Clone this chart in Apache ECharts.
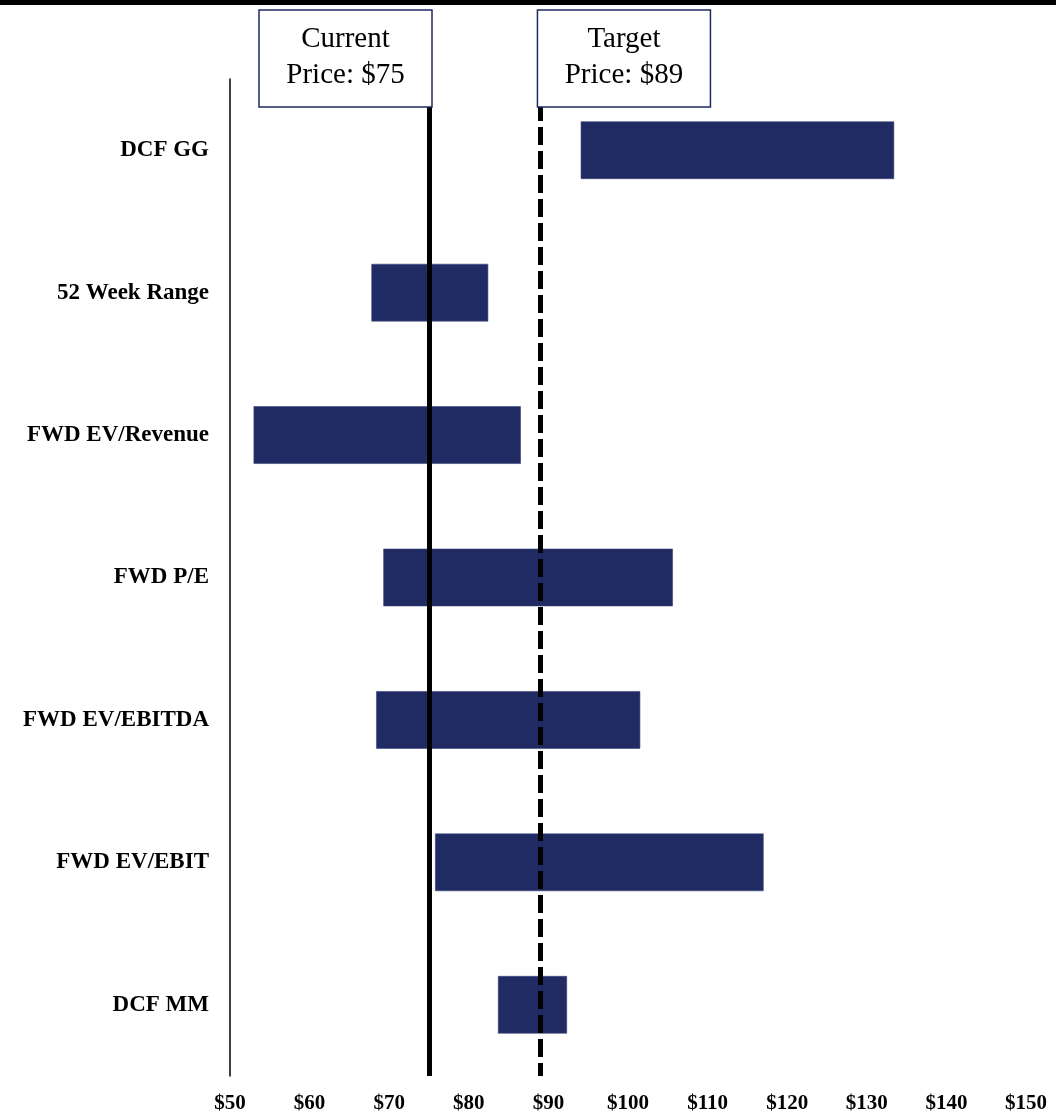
<!DOCTYPE html>
<html>
<head>
<meta charset="utf-8">
<script src="https://cdn.jsdelivr.net/npm/echarts/dist/echarts.min.js"></script>
<style>
  html, body { margin: 0; padding: 0; background: #ffffff; }
  #chart { width: 1056px; height: 1115px; }
</style>
</head>
<body>
<div id="chart"></div>
<script>
// Valuation methods, top to bottom
const categories = ['DCF GG', '52 Week Range', 'FWD EV/Revenue', 'FWD P/E', 'FWD EV/EBITDA', 'FWD EV/EBIT', 'DCF MM'];
// Low and high end of each implied share-price range ($)
const lowValues  = [94.1, 67.8, 53.0, 69.3, 68.4, 75.8, 83.7];
const highValues = [133.4, 82.4, 86.5, 105.6, 101.5, 117.0, 92.3];
// Reference prices ($)
const currentPrice = 75;
const targetPrice = 89;
// Price axis
const axisMin = 50;
const axisMax = 150;
const axisStep = 10;

const NAVY = '#202B63';
const SERIF = '"Liberation Serif", "Times New Roman", serif';

const chart = echarts.init(document.getElementById('chart'), null, { renderer: 'canvas' });

const option = {
  backgroundColor: '#ffffff',
  animation: false,
  grid: { left: 230, right: 30, top: 79, bottom: 39, containLabel: false },
  xAxis: {
    type: 'value',
    min: axisMin,
    max: axisMax,
    interval: axisStep,
    axisLine: { show: false },
    axisTick: { show: false },
    splitLine: { show: false },
    axisLabel: {
      margin: 17,
      color: '#000',
      fontFamily: SERIF,
      fontWeight: 'bold',
      fontSize: 21,
      formatter: v => '$' + v
    }
  },
  yAxis: {
    type: 'category',
    data: categories,
    inverse: true,
    axisLine: { show: true, lineStyle: { color: '#000', width: 1.5 } },
    axisTick: { show: false },
    splitLine: { show: false },
    axisLabel: {
      margin: 21,
      color: '#000',
      fontFamily: SERIF,
      fontWeight: 'bold',
      fontSize: 23
    }
  },
  series: [{
    type: 'custom',
    name: 'Range',
    encode: { x: [1, 2], y: 0 },
    data: categories.map((c, i) => [i, lowValues[i], highValues[i]]),
    renderItem: function (params, api) {
      const idx = api.value(0);
      const start = api.coord([api.value(1), idx]);
      const end = api.coord([api.value(2), idx]);
      const h = api.size([0, 1])[1] * 0.4;
      return {
        type: 'rect',
        shape: { x: start[0], y: start[1] - h / 2, width: end[0] - start[0], height: h },
        style: { fill: NAVY, stroke: '#3a4478', lineWidth: 0.6 }
      };
    },
    markLine: {
      silent: true,
      symbol: ['none', 'none'],
      label: { show: false },
      data: [
        { xAxis: currentPrice, lineStyle: { color: '#000', width: 5, type: 'solid' } },
        { xAxis: targetPrice, lineStyle: { color: '#000', width: 5, type: [18, 6] } }
      ]
    }
  }]
};

chart.setOption(option);

// Price call-out boxes sit on top of the reference lines
const xCur = chart.convertToPixel({ xAxisIndex: 0 }, currentPrice);
const xTgt = chart.convertToPixel({ xAxisIndex: 0 }, targetPrice);
const boxW = 173, boxH = 97, boxTop = 10;

function priceBox(left, title, price) {
  return [
    {
      type: 'rect',
      x: left,
      y: boxTop,
      zlevel: 1,
      z: 100,
      shape: { x: 0, y: 0, width: boxW, height: boxH },
      style: { fill: '#ffffff', stroke: '#1F2A60', lineWidth: 1.5 }
    },
    {
      type: 'text',
      x: left + boxW / 2,
      y: boxTop + boxH / 2 - 1,
      zlevel: 1,
      z: 101,
      style: {
        text: title + '\nPrice: $' + price,
        font: '29px ' + SERIF,
        fill: '#000',
        align: 'center',
        verticalAlign: 'middle',
        lineHeight: 36
      }
    }
  ];
}

chart.setOption({
  graphic: [
    { type: 'rect', x: 0, y: 0, zlevel: 1, z: 100, shape: { x: 0, y: 0, width: 1056, height: 5 }, style: { fill: '#000' } }
  ].concat(
    priceBox(xCur + 3 - boxW, 'Current', currentPrice),
    priceBox(xTgt - 3, 'Target', targetPrice)
  )
});
</script>
</body>
</html>
